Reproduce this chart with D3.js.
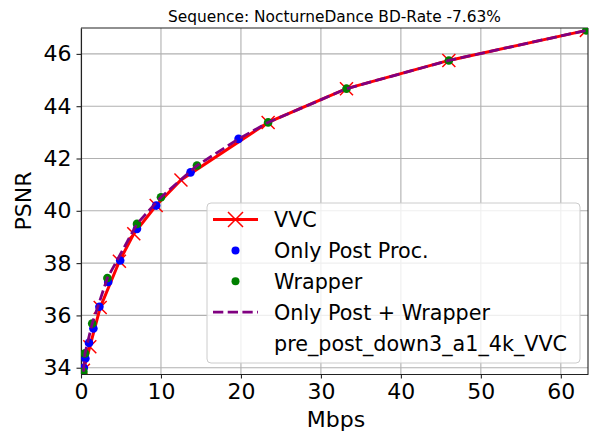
<!DOCTYPE html>
<html>
<head>
<meta charset="utf-8">
<script src="https://cdn.jsdelivr.net/npm/d3@7"></script>
<style>
  body { margin: 0; background: #fff; }
  #chart { width: 589px; height: 439px; }
  text { font-family: "DejaVu Sans", sans-serif; fill: #000; }
</style>
</head>
<body>
<div id="chart"></div>
<script>
// data (Mbps, PSNR)
const vvcRate  = [0.3, 1.1, 2.4, 4.8, 6.6, 9.4, 12.5, 23.4, 33.2, 46.0, 63.2];
const vvcPsnr  = [33.9, 34.8, 36.3, 38.07, 39.12, 40.2, 41.18, 43.38, 44.67, 45.75, 46.9];

const postRate = [0.35, 0.55, 1.0, 1.55, 2.3, 3.4, 4.9, 7.0, 9.4, 13.7, 19.7];
const postPsnr = [34.0, 34.35, 34.95, 35.5, 36.33, 37.28, 38.1, 39.31, 40.2, 41.47, 42.75];

const wrapRate = [0.3, 0.5, 1.4, 3.3, 7.0, 10.0, 14.5, 23.4, 33.2, 46.0, 63.2];
const wrapPsnr = [33.85, 34.55, 35.69, 37.43, 39.5, 40.52, 41.73, 43.38, 44.67, 45.75, 46.9];

const bothRate = [0.3, 0.5, 1.4, 3.3, 7.0, 10.0, 14.5, 19.7, 23.4, 33.2, 46.0, 63.2];
const bothPsnr = [33.85, 34.55, 35.69, 37.43, 39.5, 40.52, 41.73, 42.75, 43.38, 44.67, 45.75, 46.9];

const xTicks = [0, 10, 20, 30, 40, 50, 60];
const yTicks = [34, 36, 38, 40, 42, 44, 46];
const legendLabels = ["VVC", "Only Post Proc.", "Wrapper", "Only Post + Wrapper", "pre_post_down3_a1_4k_VVC"];

/*
  CANVAS
*/
const width = 589, height = 439;
const margin = {top: 28, left: 81, right: 1, bottom: 65};

const canvas = d3.select("#chart")
    .append("svg")
    .attr("width", width)
    .attr("height", height);

const xScale = d3.scaleLinear()
    .domain([0, 63.4])
    .range([margin.left, width - margin.right]);

const yScale = d3.scaleLinear()
    .domain([33.76, 46.99])
    .range([height - margin.bottom, margin.top]);

canvas.append("clipPath").attr("id", "plotclip")
    .append("rect")
    .attr("x", margin.left).attr("y", margin.top)
    .attr("width", width - margin.right - margin.left)
    .attr("height", height - margin.bottom - margin.top);

/*
  GRID
*/
canvas.append("g")
    .selectAll("line")
    .data(xTicks)
    .enter()
    .append("line")
    .attr("x1", d => xScale(d)).attr("x2", d => xScale(d))
    .attr("y1", margin.top).attr("y2", height - margin.bottom)
    .attr("stroke", "#b0b0b0").attr("stroke-width", 1.1);

canvas.append("g")
    .selectAll("line")
    .data(yTicks)
    .enter()
    .append("line")
    .attr("x1", margin.left).attr("x2", width - margin.right)
    .attr("y1", d => yScale(d)).attr("y2", d => yScale(d))
    .attr("stroke", "#b0b0b0").attr("stroke-width", 1.1);

/*
  AXES
*/
const xAxis = canvas.append("g")
    .attr("transform", `translate(0,${height - margin.bottom})`)
    .call(d3.axisBottom(xScale).tickValues(xTicks).tickSize(4.5).tickPadding(5).tickSizeOuter(0));

const yAxis = canvas.append("g")
    .attr("transform", `translate(${margin.left},0)`)
    .call(d3.axisLeft(yScale).tickValues(yTicks).tickSize(4.5).tickPadding(5).tickSizeOuter(0));

canvas.selectAll(".tick text")
    .style("font-family", "DejaVu Sans")
    .style("font-size", "22px");
canvas.selectAll(".domain").attr("stroke", "#222").attr("stroke-width", 1.1);
canvas.selectAll(".tick line").attr("stroke", "#222").attr("stroke-width", 1.1);

// top and right frame
canvas.append("line")
    .attr("x1", margin.left).attr("x2", width - margin.right)
    .attr("y1", margin.top).attr("y2", margin.top)
    .attr("stroke", "#222").attr("stroke-width", 1.1);
canvas.append("line")
    .attr("x1", width - margin.right).attr("x2", width - margin.right)
    .attr("y1", margin.top).attr("y2", height - margin.bottom)
    .attr("stroke", "#222").attr("stroke-width", 1.1);

/*
  LABELS
*/
canvas.append("text")
    .attr("x", (margin.left + width - margin.right) / 2)
    .attr("y", 22)
    .attr("text-anchor", "middle")
    .style("font-size", "15.4px")
    .text("Sequence: NocturneDance BD-Rate -7.63%");

canvas.append("text")
    .attr("x", 336)
    .attr("y", 427)
    .attr("text-anchor", "middle")
    .style("font-size", "22px")
    .text("Mbps");

canvas.append("text")
    .attr("transform", "rotate(-90)")
    .attr("x", -201)
    .attr("y", 31)
    .attr("text-anchor", "middle")
    .style("font-size", "22px")
    .text("PSNR");

/*
  SERIES
*/
const plot = canvas.append("g").attr("clip-path", "url(#plotclip)");
const line = d3.line().x(d => xScale(d[0])).y(d => yScale(d[1]));

const vvc  = vvcRate.map((r, i) => [r, vvcPsnr[i]]);
const post = postRate.map((r, i) => [r, postPsnr[i]]);
const wrap = wrapRate.map((r, i) => [r, wrapPsnr[i]]);
const both = bothRate.map((r, i) => [r, bothPsnr[i]]);

function xMark(g, cx, cy, s) {
    g.append("path")
        .attr("d", `M${cx - s},${cy - s}L${cx + s},${cy + s}M${cx - s},${cy + s}L${cx + s},${cy - s}`)
        .attr("stroke", "red").attr("stroke-width", 1.5).attr("fill", "none");
}

plot.append("path")
    .datum(vvc)
    .attr("d", line)
    .attr("fill", "none").attr("stroke", "red").attr("stroke-width", 3);
vvc.forEach(d => xMark(plot, xScale(d[0]), yScale(d[1]), 6.5));

plot.selectAll(".post")
    .data(post)
    .enter()
    .append("circle")
    .attr("cx", d => xScale(d[0])).attr("cy", d => yScale(d[1]))
    .attr("r", 4.3).attr("fill", "blue");

plot.selectAll(".wrap")
    .data(wrap)
    .enter()
    .append("circle")
    .attr("cx", d => xScale(d[0])).attr("cy", d => yScale(d[1]))
    .attr("r", 4.3).attr("fill", "green");

plot.append("path")
    .datum(both)
    .attr("d", line)
    .attr("fill", "none").attr("stroke", "purple").attr("stroke-width", 2.8)
    .attr("stroke-dasharray", "10.3,4.4");

/*
  LEGEND
*/
const legend = canvas.append("g");
legend.append("rect")
    .attr("x", 207).attr("y", 203)
    .attr("width", 373).attr("height", 160)
    .attr("rx", 4)
    .attr("fill", "white").attr("fill-opacity", 0.8)
    .attr("stroke", "#cccccc").attr("stroke-width", 1);

const rowY = i => 219.5 + i * 30.9;
legend.append("line")
    .attr("x1", 213).attr("x2", 258).attr("y1", rowY(0)).attr("y2", rowY(0))
    .attr("stroke", "red").attr("stroke-width", 3);
xMark(legend, 235.5, rowY(0), 7.5);
legend.append("circle").attr("cx", 235.5).attr("cy", rowY(1)).attr("r", 4).attr("fill", "blue");
legend.append("circle").attr("cx", 235.5).attr("cy", rowY(2)).attr("r", 4).attr("fill", "green");
legend.append("line")
    .attr("x1", 213).attr("x2", 258).attr("y1", rowY(3)).attr("y2", rowY(3))
    .attr("stroke", "purple").attr("stroke-width", 2.8)
    .attr("stroke-dasharray", "10.3,4.4");

legend.selectAll(".lab")
    .data(legendLabels)
    .enter()
    .append("text")
    .attr("x", 274)
    .attr("y", (d, i) => rowY(i) + 7.5)
    .style("font-size", "20.7px")
    .text(d => d);
</script>
</body>
</html>
